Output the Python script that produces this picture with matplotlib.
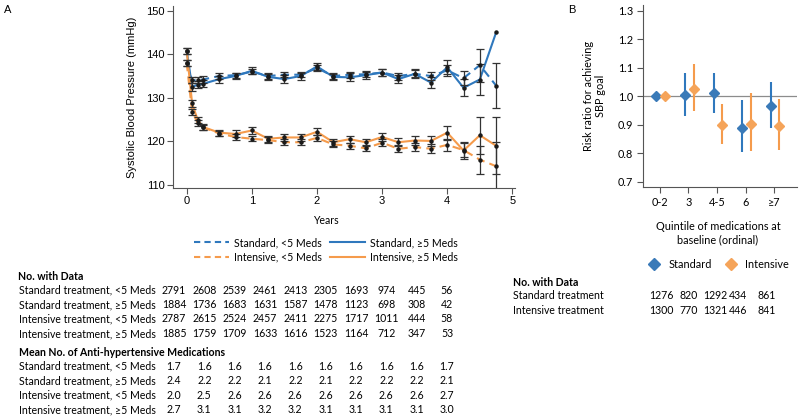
import matplotlib
matplotlib.use('Agg')
import matplotlib.pyplot as plt
import numpy as np
from matplotlib.lines import Line2D

# ---- panel A data ----
years = [0, 0.083, 0.167, 0.25, 0.5, 0.75, 1.0, 1.25, 1.5, 1.75, 2.0, 2.25,
         2.5, 2.75, 3.0, 3.25, 3.5, 3.75, 4.0, 4.25, 4.5, 4.75]
sbp_std_lt5 = [138.0, 134.0, 134.0, 134.2, 135.0, 135.2, 136.0, 135.0, 135.3, 135.3, 136.8, 135.0,
               135.3, 135.4, 135.8, 135.0, 135.5, 135.0, 136.3, 134.5, 137.5, 132.8]
sbp_std_ge5 = [140.8, 132.5, 133.0, 133.2, 134.3, 135.0, 136.2, 134.8, 134.3, 135.0, 137.2, 134.8,
               134.7, 135.2, 135.8, 134.3, 135.5, 133.5, 137.0, 132.3, 134.2, 145.0]
sbp_int_lt5 = [138.0, 126.8, 124.3, 123.2, 121.8, 121.0, 120.6, 120.3, 119.8, 119.8, 120.8, 119.3,
               119.0, 118.4, 119.7, 118.3, 118.7, 118.3, 119.2, 118.0, 115.8, 114.3]
sbp_int_ge5 = [140.8, 128.7, 125.0, 123.3, 122.0, 121.7, 122.5, 120.6, 120.9, 120.9, 122.2, 119.8,
               120.5, 119.8, 121.0, 119.8, 120.2, 120.1, 122.0, 117.9, 121.4, 119.0]
err_std_lt5 = [0.6, 0.7, 0.7, 0.7, 0.6, 0.6, 0.6, 0.6, 0.6, 0.6, 0.7, 0.6,
               0.7, 0.7, 0.8, 0.8, 0.8, 1.0, 1.3, 1.6, 3.8, 5.1]
err_std_ge5 = [0.7, 0.9, 0.8, 0.8, 0.8, 0.7, 0.8, 0.7, 0.9, 0.8, 0.9, 0.7,
               0.9, 0.8, 0.9, 1.0, 1.0, 1.3, 1.6, 2.0, 3.5, np.nan]
err_int_lt5 = [0.6, 0.7, 0.7, 0.6, 0.6, 0.7, 0.6, 0.6, 0.7, 0.7, 0.7, 0.7,
               0.7, 0.7, 0.8, 0.8, 0.9, 1.0, 1.3, 1.6, 3.2, 5.5]
err_int_ge5 = [0.7, 0.8, 0.7, 0.6, 0.7, 0.8, 0.8, 0.7, 0.8, 0.8, 0.8, 0.8,
               0.8, 0.8, 0.9, 0.9, 1.1, 1.2, 1.6, 2.0, 4.3, 6.5]

# ---- panel A tables ----
row_labels = ['Standard treatment, <5 Meds', 'Standard treatment, \u22655 Meds',
              'Intensive treatment, <5 Meds', 'Intensive treatment, \u22655 Meds']
n_std_lt5 = [2791, 2608, 2539, 2461, 2413, 2305, 1693, 974, 445, 56]
n_std_ge5 = [1884, 1736, 1683, 1631, 1587, 1478, 1123, 698, 308, 42]
n_int_lt5 = [2787, 2615, 2524, 2457, 2411, 2275, 1717, 1011, 444, 58]
n_int_ge5 = [1885, 1759, 1709, 1633, 1616, 1523, 1164, 712, 347, 53]
med_std_lt5 = ['1.7', '1.6', '1.6', '1.6', '1.6', '1.6', '1.6', '1.6', '1.6', '1.7']
med_std_ge5 = ['2.4', '2.2', '2.2', '2.1', '2.2', '2.1', '2.2', '2.2', '2.2', '2.1']
med_int_lt5 = ['2.0', '2.5', '2.6', '2.6', '2.6', '2.6', '2.6', '2.6', '2.6', '2.7']
med_int_ge5 = ['2.7', '3.1', '3.1', '3.2', '3.2', '3.1', '3.1', '3.1', '3.1', '3.0']

# ---- panel B data ----
quintiles = ['0-2', '3', '4-5', '6', '\u22657']
rr_std = [1.0, 1.005, 1.01, 0.89, 0.966]
rr_std_lo = [1.0, 0.932, 0.942, 0.805, 0.888]
rr_std_hi = [1.0, 1.083, 1.083, 0.987, 1.05]
rr_int = [1.0, 1.027, 0.90, 0.903, 0.895]
rr_int_lo = [1.0, 0.947, 0.832, 0.806, 0.81]
rr_int_hi = [1.0, 1.113, 0.972, 1.012, 0.99]
nb_std = [1276, 820, 1292, 434, 861]
nb_int = [1300, 770, 1321, 446, 841]

BLUE = '#2F78BD'
ORANGE = '#F59B4C'
TFONT = 'Lato'
FS = 7.6
W, H = 800, 418


def px(x, y):
    return x / W, 1 - y / H


fig = plt.figure(figsize=(8, 4.18), dpi=100)
plt.rcParams['font.family'] = ['Liberation Sans', 'DejaVu Sans']

# ================= panel A =================
axA = fig.add_axes([172.7 / W, 1 - 188 / H, 342.3 / W, 181.7 / H])
dash = (0, (4, 2.5))
axA.plot(years, sbp_std_lt5, color=BLUE, lw=1.5, ls=dash, zorder=2)
axA.plot(years, sbp_std_ge5, color=BLUE, lw=1.5, zorder=2)
axA.plot(years, sbp_int_lt5, color=ORANGE, lw=1.5, ls=dash, zorder=2)
axA.plot(years, sbp_int_ge5, color=ORANGE, lw=1.5, zorder=2)
for s, e in [(sbp_std_lt5, err_std_lt5), (sbp_std_ge5, err_std_ge5),
             (sbp_int_lt5, err_int_lt5), (sbp_int_ge5, err_int_ge5)]:
    axA.errorbar(years, s, yerr=e, fmt='o', color='#1a1a1a', ms=2.2,
                 elinewidth=0.9, capsize=3, capthick=0.9, ecolor='#333333', zorder=3)
axA.set_xlim(-0.215, 5.04)
axA.set_ylim(109.3, 151)
axA.set_xticks([0, 1, 2, 3, 4, 5])
axA.set_yticks([110, 120, 130, 140, 150])
axA.spines['top'].set_visible(False)
axA.spines['right'].set_visible(False)
for sp in ['left', 'bottom']:
    axA.spines[sp].set_color('#555555')
axA.tick_params(labelsize=8, length=4, color='#555555', pad=2)
axA.set_ylabel('Systolic Blood Pressure (mmHg)', fontsize=8, labelpad=6)

fig.text(*px(4, 10), 'A', fontsize=8, va='center')
fig.text(*px(326, 220), 'Years', fontsize=FS, ha='center', va='center', family=TFONT)

handles = [Line2D([], [], color=BLUE, lw=1.5, ls=(0, (3, 2))),
           Line2D([], [], color=ORANGE, lw=1.5, ls=(0, (3, 2))),
           Line2D([], [], color=BLUE, lw=1.5),
           Line2D([], [], color=ORANGE, lw=1.5)]
labels = ['Standard, <5 Meds', 'Intensive, <5 Meds',
          'Standard, \u22655 Meds', 'Intensive, \u22655 Meds']
fig.legend(handles, labels, ncol=2, loc='center', bbox_to_anchor=px(326, 250),
           frameon=False, handlelength=3.3, handletextpad=0.5, columnspacing=0.8,
           labelspacing=0.35, prop={'family': TFONT, 'size': FS})

# tables under panel A
col_x = [174 + 30.33 * i for i in range(10)]
fig.text(*px(18, 277), 'No. with Data', fontsize=FS, weight='bold', va='center', family=TFONT)
for r, (lab, vals) in enumerate(zip(row_labels, [n_std_lt5, n_std_ge5, n_int_lt5, n_int_ge5])):
    y = 290 + 14.5 * r
    fig.text(*px(19, y), lab, fontsize=FS, va='center', family=TFONT)
    for cx, v in zip(col_x, vals):
        fig.text(*px(cx, y), str(v), fontsize=FS, ha='center', va='center', family=TFONT)

fig.text(*px(19, 353), 'Mean No. of Anti-hypertensive Medications', fontsize=FS,
         weight='bold', va='center', family=TFONT)
for r, (lab, vals) in enumerate(zip(row_labels, [med_std_lt5, med_std_ge5, med_int_lt5, med_int_ge5])):
    y = 366 + 14.6 * r
    fig.text(*px(19, y), lab, fontsize=FS, va='center', family=TFONT)
    for cx, v in zip(col_x, vals):
        fig.text(*px(cx, y), v, fontsize=FS, ha='center', va='center', family=TFONT)

# ================= panel B =================
axB = fig.add_axes([642.7 / W, 1 - 187.3 / H, 154.3 / W, 182.3 / H])
xq = np.arange(len(quintiles))
axB.axhline(1.0, color='#8c8c8c', lw=0.9, zorder=1)
axB.vlines(xq - 0.12, rr_std_lo, rr_std_hi, color=BLUE, lw=1.5, zorder=2)
axB.vlines(xq + 0.18, rr_int_lo, rr_int_hi, color=ORANGE, lw=1.5, zorder=2)
axB.plot(xq - 0.12, rr_std, 'D', color='#3A7AB8', ms=5, ls='none', zorder=3)
axB.plot(xq + 0.18, rr_int, 'D', color='#F5A45A', ms=5, ls='none', zorder=3)
axB.set_xlim(-0.6, 4.8)
axB.set_ylim(0.68, 1.321)
axB.set_xticks(xq)
axB.set_xticklabels(quintiles)
axB.set_yticks([0.7, 0.8, 0.9, 1.0, 1.1, 1.2, 1.3])
axB.set_yticklabels(['0.7', '0.8', '0.9', '1.0', '1.1', '1.2', '1.3'])
axB.spines['top'].set_visible(False)
axB.spines['right'].set_visible(False)
for sp in ['left', 'bottom']:
    axB.spines[sp].set_color('#555555')
axB.tick_params(length=4, color='#555555', pad=3)
for t in axB.get_xticklabels() + axB.get_yticklabels():
    t.set_family(TFONT)
    t.set_fontsize(FS + 0.2)
axB.set_ylabel('Risk ratio for achieving\nSBP goal', fontsize=FS + 0.2, family=TFONT, labelpad=8)

fig.text(*px(568, 10), 'B', fontsize=8, va='center')
fig.text(*px(718, 233), 'Quintile of medications at\nbaseline (ordinal)', fontsize=FS + 0.2,
         ha='center', va='center', family=TFONT, linespacing=1.3)

bh = [Line2D([], [], marker='D', color='#3A7AB8', ls='none', ms=6),
      Line2D([], [], marker='D', color='#F5A45A', ls='none', ms=6)]
fig.legend(bh, ['Standard', 'Intensive'], ncol=2, loc='center', bbox_to_anchor=px(716, 264),
           frameon=False, handletextpad=0.3, columnspacing=0.8,
           prop={'family': TFONT, 'size': FS + 0.2})

bcol = [661, 689, 715, 738, 767]
fig.text(*px(513, 282), 'No. with Data', fontsize=FS, weight='bold', va='center', family=TFONT)
for r, (lab, vals) in enumerate(zip(['Standard treatment', 'Intensive treatment'], [nb_std, nb_int])):
    y = 295.5 + 14.5 * r
    fig.text(*px(513, y), lab, fontsize=FS, va='center', family=TFONT)
    for cx, v in zip(bcol, vals):
        fig.text(*px(cx, y), str(v), fontsize=FS, ha='center', va='center', family=TFONT)

fig.savefig('out.png', dpi=100)
